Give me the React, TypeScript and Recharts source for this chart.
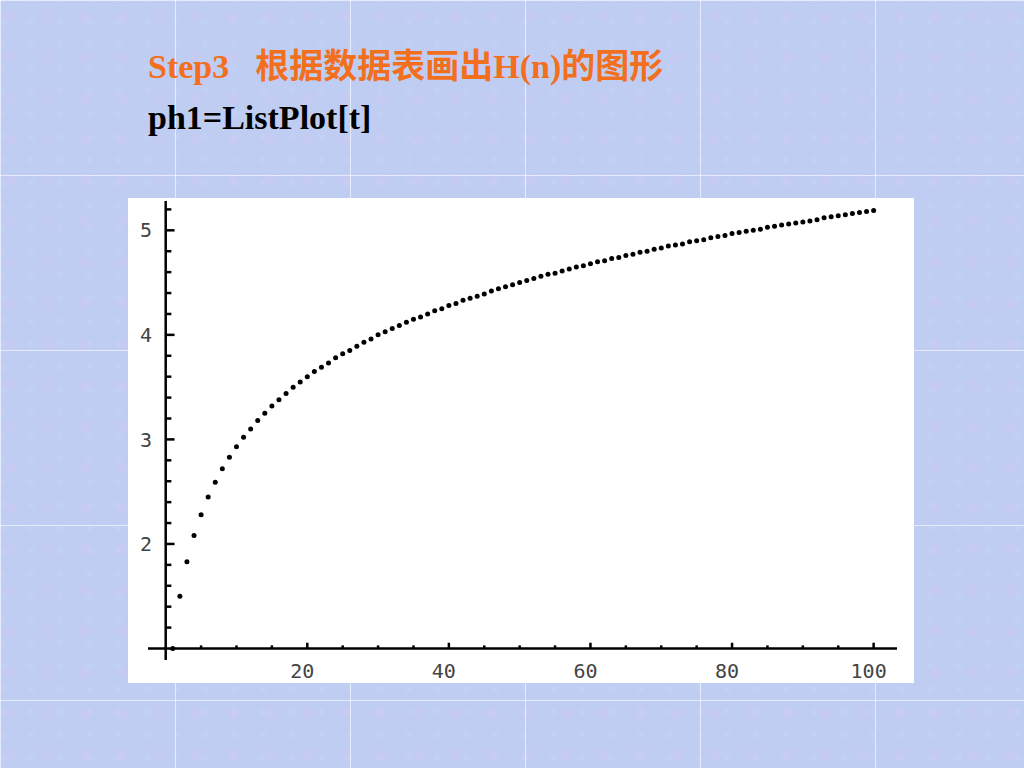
import React from "react";
import { ScatterChart, Scatter, XAxis, YAxis, ReferenceLine } from "recharts";

// H(n) values, n = 1..100
const nValues = [
  1, 2, 3, 4, 5, 6, 7, 8, 9, 10, 11, 12, 13, 14, 15, 16, 17, 18, 19, 20,
  21, 22, 23, 24, 25, 26, 27, 28, 29, 30, 31, 32, 33, 34, 35, 36, 37, 38, 39, 40,
  41, 42, 43, 44, 45, 46, 47, 48, 49, 50, 51, 52, 53, 54, 55, 56, 57, 58, 59, 60,
  61, 62, 63, 64, 65, 66, 67, 68, 69, 70, 71, 72, 73, 74, 75, 76, 77, 78, 79, 80,
  81, 82, 83, 84, 85, 86, 87, 88, 89, 90, 91, 92, 93, 94, 95, 96, 97, 98, 99, 100,
];
const hValues = [
  1.0, 1.5, 1.83, 2.08, 2.28, 2.45, 2.59, 2.72, 2.83, 2.93,
  3.02, 3.1, 3.18, 3.25, 3.32, 3.38, 3.44, 3.5, 3.55, 3.6,
  3.65, 3.69, 3.73, 3.78, 3.82, 3.85, 3.89, 3.93, 3.96, 4.0,
  4.03, 4.06, 4.09, 4.12, 4.15, 4.17, 4.2, 4.23, 4.25, 4.28,
  4.3, 4.33, 4.35, 4.37, 4.39, 4.42, 4.44, 4.46, 4.48, 4.5,
  4.52, 4.54, 4.56, 4.58, 4.59, 4.61, 4.63, 4.65, 4.66, 4.68,
  4.7, 4.71, 4.73, 4.74, 4.76, 4.77, 4.79, 4.8, 4.82, 4.83,
  4.85, 4.86, 4.87, 4.89, 4.9, 4.91, 4.93, 4.94, 4.95, 4.97,
  4.98, 4.99, 5.0, 5.01, 5.03, 5.04, 5.05, 5.06, 5.07, 5.08,
  5.09, 5.1, 5.12, 5.13, 5.14, 5.15, 5.16, 5.17, 5.18, 5.19,
];

const xLabels = [20, 40, 60, 80, 100];
const xMinorTicks = [5, 10, 15, 25, 30, 35, 45, 50, 55, 65, 70, 75, 85, 90, 95];
const yLabels = [2, 3, 4, 5];
const yMinorTicks = [
  1.2, 1.4, 1.6, 1.8, 2.2, 2.4, 2.6, 2.8, 3.2, 3.4, 3.6, 3.8,
  4.2, 4.4, 4.6, 4.8, 5.2,
];

const points = nValues.map((n, i) => ({ n, h: hValues[i] }));

const tickFont = { fontFamily: "'DejaVu Sans Mono', monospace", fontSize: 20, fill: "#444" };

const Dot = (props: any) => <circle cx={props.cx} cy={props.cy} r={2.5} fill="#000" />;

export default function App() {
  return (
    <div
      style={{
        position: "absolute",
        left: 0,
        top: 0,
        width: 1024,
        height: 768,
        backgroundColor: "#bfcdf3",
        backgroundImage:
          "linear-gradient(to right, rgba(255,255,255,0.6) 1px, transparent 1px), linear-gradient(to bottom, rgba(255,255,255,0.6) 1px, transparent 1px), radial-gradient(circle at 30% 40%, rgba(225,195,235,0.25) 0 8%, transparent 20%), radial-gradient(circle at 70% 65%, rgba(200,215,245,0.35) 0 6%, transparent 18%)",
        backgroundSize: "175px 175px, 175px 175px, 37px 41px, 29px 23px",
        backgroundPosition: "0 0, 0 0, 0 0, 11px 7px",
        overflow: "hidden",
      }}
    >
      <div
        style={{
          position: "absolute",
          left: 148,
          top: 47,
          fontFamily: "'Liberation Serif', 'Noto Sans CJK SC', serif",
          fontWeight: "bold",
          fontSize: 34,
          color: "#f26f1d",
          whiteSpace: "nowrap",
          lineHeight: "40px",
        }}
      >
        Step3<span style={{ display: "inline-block", width: 26 }} />根据数据表画出H(n)的图形
      </div>
      <div
        style={{
          position: "absolute",
          left: 148,
          top: 98,
          fontFamily: "'Liberation Serif', serif",
          fontWeight: "bold",
          fontSize: 34,
          color: "#000",
          whiteSpace: "nowrap",
          lineHeight: "40px",
        }}
      >
        ph1=ListPlot[t]
      </div>
      <div style={{ position: "absolute", left: 128, top: 198, background: "#fff" }}>
        <ScatterChart width={786} height={485} margin={{ top: 2, right: 17, bottom: 0, left: 0 }}>
          <XAxis
            type="number"
            dataKey="n"
            domain={[-2.5, 103.3]}
            allowDataOverflow
            ticks={xLabels}
            axisLine={false}
            tickLine={false}
            tickSize={0}
            tickMargin={4}
            height={23}
            tick={{ ...tickFont, dx: -5 }}
          />
          <YAxis
            type="number"
            dataKey="h"
            domain={[0.89, 5.29]}
            allowDataOverflow
            ticks={yLabels}
            axisLine={false}
            tickLine={false}
            tickSize={0}
            tickMargin={-4}
            width={20}
            tick={tickFont}
          />
          {/* axes crossing at (0, 1) */}
          <ReferenceLine segment={[{ x: -2.5, y: 1 }, { x: 103.3, y: 1 }]} stroke="#000" strokeWidth={2.5} />
          <ReferenceLine segment={[{ x: 0, y: 0.89 }, { x: 0, y: 5.28 }]} stroke="#000" strokeWidth={2.5} />
          {xMinorTicks.map((t) => (
            <ReferenceLine key={"xm" + t} segment={[{ x: t, y: 1 }, { x: t, y: 1.03 }]} stroke="#000" strokeWidth={2.5} />
          ))}
          {xLabels.map((t) => (
            <ReferenceLine key={"xM" + t} segment={[{ x: t, y: 1 }, { x: t, y: 1.055 }]} stroke="#000" strokeWidth={2.5} />
          ))}
          {yMinorTicks.map((t) => (
            <ReferenceLine key={"ym" + t} segment={[{ x: 0, y: t }, { x: 0.8, y: t }]} stroke="#000" strokeWidth={2.5} />
          ))}
          {yLabels.map((t) => (
            <ReferenceLine key={"yM" + t} segment={[{ x: 0, y: t }, { x: 1.25, y: t }]} stroke="#000" strokeWidth={2.5} />
          ))}
          <Scatter data={points} shape={Dot} isAnimationActive={false} />
        </ScatterChart>
      </div>
    </div>
  );
}
